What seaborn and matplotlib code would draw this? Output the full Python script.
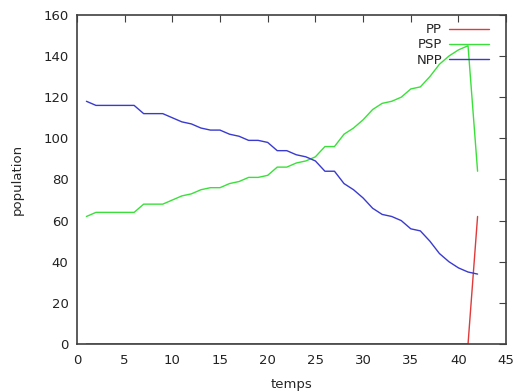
import pandas as pd
import matplotlib
matplotlib.use("Agg")
import matplotlib.pyplot as plt
import seaborn as sns

# time steps
temps = list(range(1, 43))

# population values
pp = [0] * 41 + [62]
psp = [62, 64, 64, 64, 64, 64, 68, 68, 68, 70, 72, 73, 75, 76, 76, 78, 79, 81, 81, 82, 86,
       86, 88, 89, 91, 96, 96, 102, 105, 109, 114, 117, 118, 120, 124, 125, 130, 136, 140, 143, 145, 84]
npp = [118, 116, 116, 116, 116, 116, 112, 112, 112, 110, 108, 107, 105, 104, 104, 102, 101, 99, 99, 98, 94,
       94, 92, 91, 89, 84, 84, 78, 75, 71, 66, 63, 62, 60, 56, 55, 50, 44, 40, 37, 35, 34]

series = ["PP", "PSP", "NPP"]
colors = {"PP": "#e03a3a", "PSP": "#3ae03a", "NPP": "#3a3ad0"}

df = pd.concat([
    pd.DataFrame({"temps": temps, "population": vals, "serie": name})
    for name, vals in zip(series, [pp, psp, npp])
])

sns.set_style("white")
plt.rcParams["font.family"] = ["DejaVu Sans"]

fig = plt.figure(figsize=(5.16, 3.92), dpi=100)
ax = fig.add_axes([0.149, 0.1224, 0.832, 0.8396])

sns.lineplot(data=df, x="temps", y="population", hue="serie", hue_order=series,
             palette=colors, linewidth=1.0, ax=ax, zorder=1)

ax.set_xlim(0, 45)
ax.set_ylim(0, 160)
ax.set_xticks(range(0, 46, 5))
ax.set_yticks(range(0, 161, 20))
ax.tick_params(direction="in", length=5, width=0.8, color="#404040", top=True, right=True,
               labelsize=9.5, labelcolor="#222222")
ax.tick_params(axis="x", pad=7)
ax.tick_params(axis="y", pad=6)
for sp in ax.spines.values():
    sp.set_color("#404040")
    sp.set_linewidth(1.2)
    sp.set_zorder(3)

ax.set_xlabel("temps", fontsize=9.5, labelpad=8)
ax.set_ylabel("population", fontsize=9.5, labelpad=14)

ax.legend(loc="upper right", bbox_to_anchor=(0.96, 0.975), frameon=False, markerfirst=False,
          fontsize=9.5, handlelength=3.0, handletextpad=0.55, labelspacing=0.17, borderaxespad=0,
          borderpad=0)

fig.savefig("out.png", dpi=100)
